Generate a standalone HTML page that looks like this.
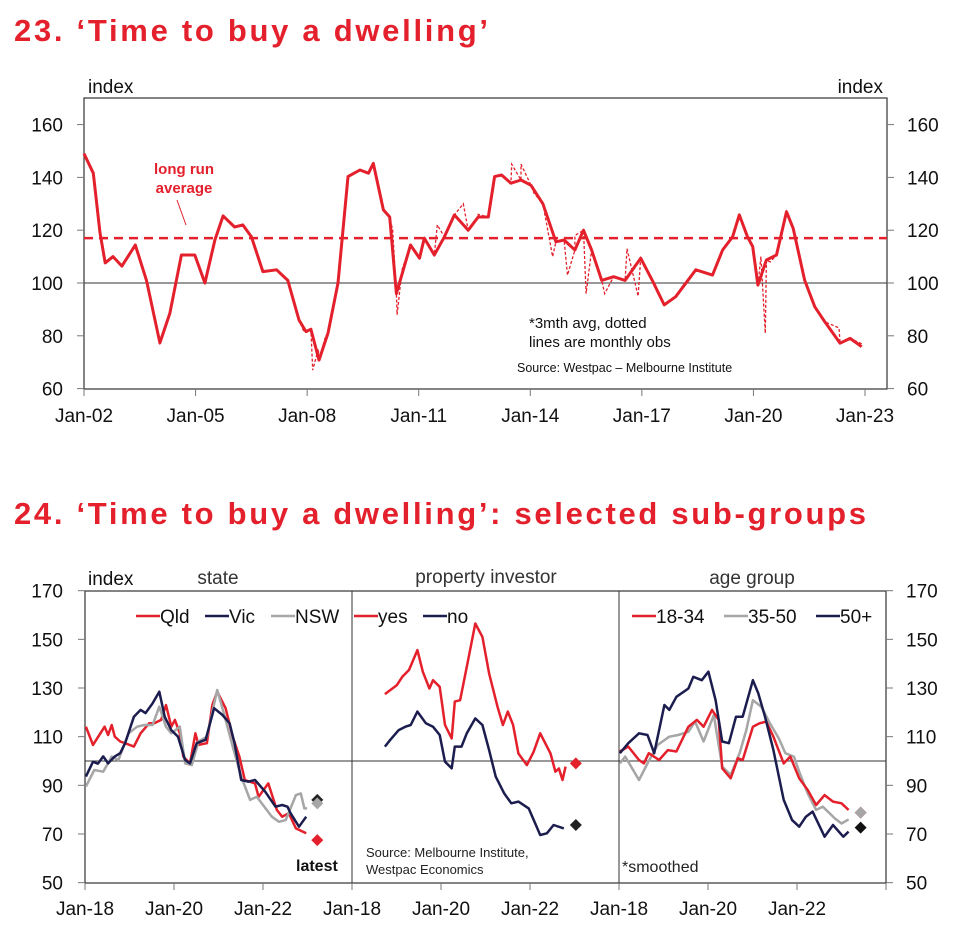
<!DOCTYPE html>
<html><head><meta charset="utf-8">
<style>
body{margin:0;background:#fff;width:961px;height:940px;overflow:hidden;font-family:"Liberation Sans",Arial,sans-serif;}
svg{position:absolute;left:0;top:0}
</style></head>
<body>
<svg id="chart" width="961" height="940" viewBox="0 0 961 940" xmlns="http://www.w3.org/2000/svg">
<text x="14" y="41" font-size="31" font-weight="bold" fill="#e3202b" textLength="474" lengthAdjust="spacing">23. ‘Time to buy a dwelling’</text>
<text x="14" y="524" font-size="31" font-weight="bold" fill="#e3202b" textLength="852" lengthAdjust="spacing">24. ‘Time to buy a dwelling’: selected sub-groups</text>
<g id="top"></g>
<g id="bot"></g>
</svg>
<script>
// ===== Chart 23 data =====
const topYears=[2002.0,2002.25,2002.43,2002.57,2002.78,2003.02,2003.38,2003.68,2004.04,2004.31,2004.62,2004.98,2005.25,2005.52,2005.74,2006.05,2006.27,2006.5,2006.81,2007.18,2007.48,2007.78,2007.97,2008.1,2008.32,2008.56,2008.83,2009.1,2009.42,2009.65,2009.78,2010.05,2010.22,2010.4,2010.78,2011.02,2011.15,2011.42,2011.69,2011.96,2012.33,2012.6,2012.87,2013.04,2013.23,2013.48,2013.75,2014.02,2014.34,2014.69,2014.91,2015.2,2015.43,2015.65,2015.92,2016.24,2016.55,2016.97,2017.28,2017.6,2017.91,2018.45,2018.9,2019.17,2019.44,2019.62,2019.84,2019.98,2020.12,2020.35,2020.62,2020.89,2021.07,2021.38,2021.65,2021.92,2022.33,2022.6,2022.91];
const topValues=[149,141.6,119,107.6,110,106.4,114.4,101,77.3,88.6,110.6,110.6,100,116.3,125.4,121.2,122,117.5,104.3,105,101,86,81.6,82.5,70.8,81,100,140.3,142.8,141.6,145.3,127.7,125,96,114.4,109.4,117,110.6,117.5,125.8,120,125,125,140.3,140.9,137.8,139,137,130,115.6,116.3,112.5,120,112.5,101,102.4,101,109.4,101,91.7,94.8,105,103,112.5,117.5,125.8,117.5,113.8,99.2,108.7,110.6,127,120.7,101,91,85.3,77.2,79,75.9];
const monthlyYears=[2007.9,2008.15,2008.3,2008.5,2010.3,2010.42,2010.55,2011.5,2012.2,2012.6,2013.5,2013.75,2014.1,2014.6,2015.0,2015.2,2015.5,2016.0,2016.6,2016.9,2020.2,2020.32,2020.45,2022.3,2022.9];
const monthlyValues=[82,67,75,80,120,88,105,122,130,126,145,145,134,110,103,118,96,96,113,95,110,81,108,83,77];
const avgValue=117;
const topYTicks=[60,80,100,120,140,160];
const topXLabels=["Jan-02","Jan-05","Jan-08","Jan-11","Jan-14","Jan-17","Jan-20","Jan-23"];
const topXTickYears=[2002,2005,2008,2011,2014,2017,2020,2023];

// ===== Chart 24 data =====
const botYTicks=[50,70,90,110,130,150,170];
const botXLabels=["Jan-18","Jan-20","Jan-22"];
const botXTickYears=[2018,2020,2022];
const qldYears=[2018.02,2018.18,2018.44,2018.52,2018.6,2018.67,2018.79,2018.9,2019.1,2019.25,2019.44,2019.56,2019.71,2019.82,2019.94,2020.02,2020.13,2020.21,2020.36,2020.48,2020.55,2020.74,2020.86,2020.97,2021.16,2021.32,2021.47,2021.59,2021.82,2021.9,2022.12,2022.31,2022.43,2022.58,2022.74,2022.97];
const qldValues=[114.1,106.6,114.1,110.7,114.8,110,108,107.3,105.9,111.4,115.5,115.5,116.9,123,114.1,116.9,111.4,101.8,99,111.4,106.6,107.3,123,128.5,121.7,110,101.8,92.2,90.8,85.3,90.8,79.9,77.1,78.5,72.3,70.3];
const vicYears=[2018.02,2018.18,2018.29,2018.41,2018.52,2018.67,2018.79,2018.9,2019.1,2019.25,2019.36,2019.52,2019.67,2019.79,2019.94,2020.09,2020.25,2020.36,2020.51,2020.71,2020.9,2021.09,2021.25,2021.36,2021.51,2021.67,2021.82,2022.05,2022.28,2022.43,2022.55,2022.62,2022.81,2022.97];
const vicValues=[93.6,99.7,98.9,101.9,99,101.9,103.2,107.3,118.2,121,119.7,123.7,128.5,118.2,112.7,110,100.4,99,107.3,108.7,121.7,118.9,115.5,107.3,92.2,91.5,92.2,87.4,81.2,81.9,81.2,78.5,73,77.1];
const nswYears=[2018.02,2018.21,2018.41,2018.6,2018.75,2018.98,2019.17,2019.33,2019.52,2019.67,2019.82,2019.94,2020.13,2020.25,2020.4,2020.55,2020.74,2020.97,2021.12,2021.32,2021.51,2021.71,2021.86,2021.97,2022.2,2022.36,2022.51,2022.74,2022.85,2022.93,2022.99];
const nswValues=[89.5,96.3,95.6,101.8,100.4,111.4,114.1,114.8,114.8,122.3,114.1,111.4,114.1,99,98.3,108,110,129.2,119.7,105.9,93.6,84,85.3,82.6,77.1,75,75.7,86,86.7,80.5,80.5];
const yesYears=[2018.74,2019.01,2019.13,2019.28,2019.47,2019.59,2019.74,2019.82,2019.97,2020.09,2020.24,2020.31,2020.43,2020.58,2020.77,2020.93,2021.08,2021.27,2021.39,2021.5,2021.62,2021.74,2021.93,2022.08,2022.23,2022.46,2022.57,2022.65,2022.73,2022.8];
const yesValues=[127.5,131.2,134.6,137.4,145.6,136.7,129.8,133.2,130.5,114.8,109.3,124.4,125,138.7,156.5,151,136,122.3,114.8,120.3,114.8,103.1,98.3,103.8,111.4,103.1,95.6,96.9,92.2,97.7];
const noYears=[2018.74,2018.86,2019.05,2019.2,2019.32,2019.47,2019.66,2019.82,2019.97,2020.09,2020.24,2020.31,2020.46,2020.58,2020.77,2020.93,2021.08,2021.23,2021.42,2021.58,2021.74,2021.97,2022.23,2022.38,2022.53,2022.76];
const noValues=[105.9,108.7,112.7,114.1,114.8,120.3,115.5,114.1,110.7,99.7,97,105.9,105.9,111.4,117.5,114.8,104.5,93.6,86.7,82.6,83.3,80.5,69.6,70.3,73.7,72.3];
const a50Years=[2018.02,2018.21,2018.45,2018.64,2018.79,2019.02,2019.13,2019.29,2019.56,2019.67,2019.86,2020.01,2020.17,2020.32,2020.47,2020.63,2020.78,2021.01,2021.13,2021.28,2021.47,2021.7,2021.89,2022.05,2022.2,2022.35,2022.62,2022.81,2023.04,2023.16];
const a50Values=[103.2,107.3,111.4,110.7,103.2,123,121,126.4,129.8,134.6,133.2,136.7,125,108,107.3,118.2,118.2,133.2,127.8,118.2,104.5,84,75.7,73,77.1,79.2,68.9,73.7,68.9,71];
const a18Years=[2018.02,2018.21,2018.45,2018.56,2018.67,2018.9,2019.1,2019.29,2019.56,2019.75,2019.9,2020.09,2020.24,2020.32,2020.51,2020.67,2020.78,2021.01,2021.16,2021.31,2021.47,2021.7,2021.85,2022.05,2022.24,2022.43,2022.62,2022.81,2023.0,2023.16];
const a18Values=[103.9,105.9,100.4,99,103.2,100.4,104.5,103.9,114.1,116.9,114.1,121,116.9,97,92.9,101.1,100.4,114.1,115.5,116.2,110,99,101.8,92.9,88.1,81.9,86,83.3,82.6,79.9];
const a35Years=[2018.02,2018.14,2018.45,2018.64,2018.87,2019.13,2019.33,2019.56,2019.71,2019.9,2020.13,2020.32,2020.51,2020.71,2020.86,2021.01,2021.2,2021.39,2021.59,2021.74,2021.93,2022.05,2022.24,2022.43,2022.58,2022.85,2023.0,2023.16];
const a35Values=[99,101.8,92.2,99,106.6,110,110.7,112,116.2,108,118.9,97.7,94.3,103.2,112.7,125,122.3,115.5,109.3,103.2,101.8,95.6,86.7,79.9,81.2,76.4,74.3,76];
const latestYears=[2023.22,2023.22,2023.22,2023.03,2023.03,2023.43,2023.43,2023.43];
const latestValues=[67.5,84,82.6,99,73.7,78.8,78.8,72.6];

const NS="http://www.w3.org/2000/svg";
const RED="#e3202b",NAVY="#1c1d4f",GRAY="#a6a6a6",AX="#333";
function mk(parent,tag,attrs){const e=document.createElementNS(NS,tag);for(const k in attrs)e.setAttribute(k,attrs[k]);parent.appendChild(e);return e;}
function txt(parent,x,y,s,size,anchor,fill,weight){const t=mk(parent,"text",{x:x,y:y,"font-size":size,"text-anchor":anchor||"start",fill:fill||"#111"});if(weight)t.setAttribute("font-weight",weight);t.textContent=s;return t;}
function pathFrom(xs,ys,fx,fy){return xs.map((v,i)=>(i?"L":"M")+fx(v).toFixed(1)+","+fy(ys[i]).toFixed(1)).join("");}

// ===== Top chart =====
const T=document.getElementById("top");
const tx=y=>84+(y-2002)*37.19;
const ty=v=>283-(v-100)*2.64;
let e;
e=mk(T,"rect",{x:84,y:98,width:803,height:291,fill:"none",stroke:AX,"stroke-width":1.2});

e=mk(T,"line",{x1:84,x2:887,y1:ty(100),y2:ty(100),stroke:AX,"stroke-width":1});

topYTicks.forEach(v=>{
  mk(T,"line",{x1:77,x2:84,y1:ty(v),y2:ty(v),stroke:"#777"});
  mk(T,"line",{x1:887,x2:894,y1:ty(v),y2:ty(v),stroke:"#777"});
  e=txt(T,63,ty(v)+7,String(v),19,"end");
  
  e=txt(T,907,ty(v)+7,String(v),19,"start");
  
});
topXTickYears.forEach((y,i)=>{
  mk(T,"line",{x1:tx(y),x2:tx(y),y1:389,y2:396,stroke:"#777"});
  e=txt(T,tx(y),422,topXLabels[i],19,"middle");
  
});
e=txt(T,88,93,"index",19,"start");
e=txt(T,883,93,"index",19,"end");
e=mk(T,"line",{x1:84,x2:887,y1:ty(avgValue),y2:ty(avgValue),stroke:RED,"stroke-width":2.5,"stroke-dasharray":"9,6"});

e=mk(T,"path",{d:"",fill:"none",stroke:RED,"stroke-width":1.3,"stroke-dasharray":"3,2"});

(function(){const pts=topYears.map((y,i)=>[y,topValues[i]]).concat(monthlyYears.map((y,i)=>[y,monthlyValues[i]])).sort((a,b)=>a[0]-b[0]);
 e.setAttribute("d",pathFrom(pts.map(p=>p[0]),pts.map(p=>p[1]),tx,ty));})();
e=mk(T,"path",{d:pathFrom(topYears,topValues,tx,ty),fill:"none",stroke:RED,"stroke-width":3,"stroke-linejoin":"round"});

e=txt(T,184,174,"long run",15,"middle",RED,"bold");
txt(T,184,193,"average",15,"middle",RED,"bold");
mk(T,"line",{x1:177,y1:200,x2:186,y2:225,stroke:RED,"stroke-width":1});
e=txt(T,529,328,"*3mth avg, dotted",15,"start");
txt(T,529,347,"lines are monthly obs",15,"start");
e=txt(T,517,372,"Source: Westpac – Melbourne Institute",12.5,"start");

// ===== Bottom chart =====
const B=document.getElementById("bot");
const by=v=>761-(v-100)*2.433;
const panels=[85,352,619];
function bx(p,y){return panels[p]+(y-2018)*44.5;}
e=mk(B,"rect",{x:85,y:591,width:801,height:292,fill:"none",stroke:AX,"stroke-width":1.2});

mk(B,"line",{x1:352,x2:352,y1:591,y2:883,stroke:AX});
mk(B,"line",{x1:619,x2:619,y1:591,y2:883,stroke:AX});
mk(B,"line",{x1:85,x2:886,y1:by(100),y2:by(100),stroke:AX});
botYTicks.forEach(v=>{
  mk(B,"line",{x1:78,x2:85,y1:by(v),y2:by(v),stroke:"#777"});
  mk(B,"line",{x1:886,x2:893,y1:by(v),y2:by(v),stroke:"#777"});
  e=txt(B,63,by(v)+7,String(v),19,"end");
  e=txt(B,906,by(v)+7,String(v),19,"start");
});
[0,1,2].forEach(p=>{botXTickYears.forEach((y,i)=>{
  mk(B,"line",{x1:bx(p,y),x2:bx(p,y),y1:883,y2:890,stroke:"#777"});
  e=txt(B,bx(p,y),915,botXLabels[i],19,"middle");
});});
mk(B,"line",{x1:886,x2:886,y1:883,y2:890,stroke:"#777"});
e=txt(B,88,585,"index",19);
e=txt(B,218,584,"state",19,"middle","#333");
e=txt(B,486,583,"property investor",19,"middle","#333");
e=txt(B,752,584,"age group",19,"middle","#333");
const series=[[0,qldYears,qldValues,RED,"qld-line"],[0,nswYears,nswValues,GRAY,"nsw-line"],[0,vicYears,vicValues,NAVY,"vic-line"],
 [1,yesYears,yesValues,RED,"investor-yes-line"],[1,noYears,noValues,NAVY,"investor-no-line"],
 [2,a35Years,a35Values,GRAY,"age-35-50-line"],[2,a18Years,a18Values,RED,"age-18-34-line"],[2,a50Years,a50Values,NAVY,"age-50-plus-line"]];
series.forEach(s=>{
  e=mk(B,"path",{d:pathFrom(s[1],s[2],y=>bx(s[0],y),by),fill:"none",stroke:s[3],"stroke-width":2.5,"stroke-linejoin":"round"});
  
});
const latestPanel=[0,0,0,1,1,2,2,2],latestCol=[RED,"#222",GRAY,RED,"#222",RED,GRAY,"#111"];
latestYears.forEach((y,i)=>{
  const cx=bx(latestPanel[i],y),cy=by(latestValues[i]);
  e=mk(B,"path",{d:`M${cx},${cy-6}L${cx+6},${cy}L${cx},${cy+6}L${cx-6},${cy}Z`,fill:latestCol[i]});
  
});
function legend(x,y,col,label){mk(B,"line",{x1:x,x2:x+24,y1:y,y2:y,stroke:col,"stroke-width":2.5});const t=txt(B,x+24,y+7,label,19);}
legend(136,616,RED,"Qld");legend(205,616,NAVY,"Vic");legend(271,616,GRAY,"NSW");
legend(354,616,RED,"yes");legend(423,616,NAVY,"no");
legend(632,616,RED,"18-34");legend(724,616,GRAY,"35-50");legend(816,616,NAVY,"50+");
e=txt(B,296,871,"latest",16,"start","#111","bold");
e=txt(B,366,857,"Source: Melbourne Institute,",13,"start","#222");
txt(B,366,874,"Westpac Economics",13,"start","#222");
e=txt(B,622,872,"*smoothed",16,"start","#222");
</script>
</body></html>
